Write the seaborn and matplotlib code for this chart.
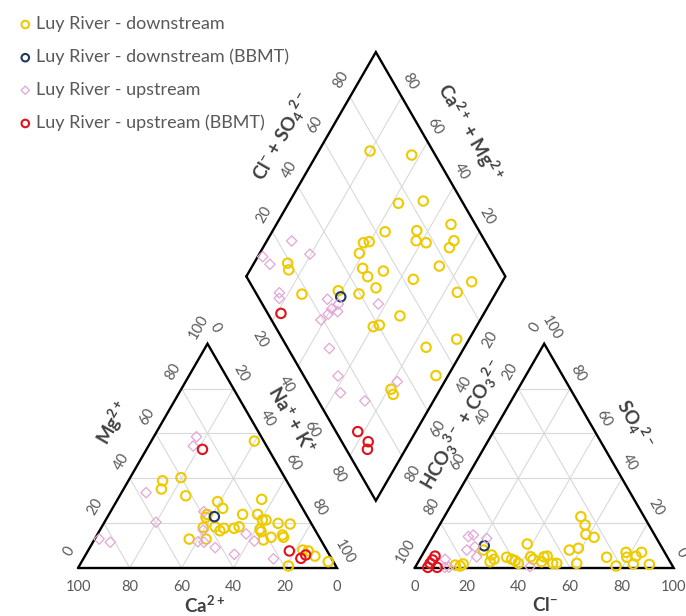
import numpy as np
import pandas as pd
import matplotlib
matplotlib.use("Agg")
import matplotlib.pyplot as plt
import seaborn as sns

# ---- values (percent of meq/L) ----
# cation triangle: Ca2+ and Mg2+ (Na+ + K+ is the remainder)
down_ca = [3.6, 40.1, 47.9, 50.2, 42.3, 31.3, 30.8, 13.8, 38.2, 39.3, 24.5, 18.7,
           18.1, 16.7, 12.8, 8.3, 42.6, 37.9, 36.9, 34.8, 30.9, 28.6, 21.1, 21.2,
           13.7, 13.8, 18.6, 22.2, 50.6, 44.1, 9.2, 7.3, 5.9, 2.0, 18.3]
down_mg = [56.6, 40.3, 38.9, 35.2, 32.2, 29.6, 26.6, 30.6, 23.9, 22.6, 23.9, 23.9,
           21.4, 21.4, 19.9, 19.6, 18.1, 18.4, 16.6, 17.7, 17.7, 18.4, 17.3, 16.2,
           14.7, 13.7, 13.7, 12.5, 12.9, 12.9, 8.0, 7.6, 5.3, 2.8, 0.9]
down_bbmt_ca = [35.9]
down_bbmt_mg = [22.9]
up_ca = [25.0, 28.3, 56.9, 59.7, 38.9, 43.2, 47.9, 45.6, 42.5, 36.6, 27.5, 25.9,
         22.5, 85.4, 81.8]
up_mg = [58.5, 54.4, 33.6, 20.4, 25.1, 16.9, 11.7, 11.5, 9.1, 6.1, 15.2, 12.0,
         4.1, 12.9, 11.5]
up_bbmt_ca = [25.5, 14.6, 11.8, 9.2]
up_bbmt_mg = [52.9, 7.6, 4.3, 5.8]

# anion triangle: Cl- and SO4 2- (HCO3- + CO3 2- is the remainder)
down_cl = [52.7, 56.2, 58.6, 62.4, 58.8, 55.7, 61.5, 38.1, 42.3, 43.8, 47.4, 48.5,
           47.6, 52.2, 53.8, 33.1, 35.5, 37.1, 39.0, 26.8, 28.7, 27.7, 22.5, 71.7,
           77.3, 78.1, 79.5, 82.8, 84.1, 83.5, 89.8, 15.0, 17.1, 17.8]
down_so4 = [22.9, 19.2, 15.0, 13.7, 8.8, 8.0, 2.1, 10.7, 5.0, 3.9, 5.0, 5.3,
            2.8, 2.1, 2.1, 4.8, 3.9, 3.3, 2.1, 5.8, 3.9, 2.8, 8.0, 4.8,
            0.9, 7.0, 4.8, 5.3, 7.0, 1.8, 1.6, 1.3, 0.9, 1.8]
down_bbmt_cl = [21.9]
down_bbmt_so4 = [9.9]
up_cl = [13.7, 15.3, 21.2, 16.1, 21.4, 18.5, 9.8, 13.0, 44.2, 11.5]
up_so4 = [14.0, 14.7, 13.2, 8.0, 5.0, 9.5, 3.9, 0.3, 0.6, 0.3]
up_bbmt_cl = [5.2, 5.1, 4.9, 4.9, 8.5]
up_bbmt_so4 = [5.3, 3.6, 2.1, 0.3, 0.3]

# diamond: Na+ + K+ and Cl- + SO4 2-
down_nak = [19.8, 36.8, 42.4, 51.5, 67.4, 43.6, 55.6, 37.7, 39.7, 57.6, 61.9, 72.2,
            72.0, 38.5, 43.1, 51.7, 72.2, 46.9, 65.1, 88.2, 13.0, 14.9, 52.6, 25.4,
            38.7, 47.4, 85.0, 68.1, 60.2, 62.2, 95.2, 85.2, 95.3, 81.0, 83.0]
down_clso4 = [75.7, 90.9, 75.0, 85.1, 90.6, 63.5, 76.0, 52.7, 55.2, 73.5, 76.9, 88.1,
              84.8, 48.8, 46.7, 54.1, 76.8, 46.8, 63.8, 85.8, 18.9, 17.8, 47.5, 17.5,
              32.3, 39.6, 77.9, 50.5, 37.8, 40.5, 67.2, 53.6, 51.1, 30.7, 30.4]
down_bbmt_nak = [41.0]
down_bbmt_clso4 = [31.9]
up_nak = [9.6, 1.9, 6.4, 19.6, 16.4, 17.6, 36.4, 57.1, 40.2, 41.7, 43.1, 40.0,
          38.5, 48.1, 57.6, 62.3, 73.5, 81.7]
up_clso4 = [25.4, 10.7, 11.8, 29.5, 9.1, 7.8, 26.2, 44.8, 25.7, 29.4, 27.4, 23.2,
            19.1, 16.0, 13.2, 10.4, 18.0, 34.8]
up_bbmt_nak = [21.6, 77.6, 83.9, 85.3]
up_bbmt_clso4 = [5.1, 8.4, 10.2, 8.2]

labels = ["Luy River - downstream", "Luy River - downstream (BBMT)",
          "Luy River - upstream", "Luy River - upstream (BBMT)"]
colors = ["#EDCB00", "#1F3A5F", "#E3A6D6", "#E0121B"]

H = np.sqrt(3) / 2
GAP = 30
L = np.array([50 + GAP / 2, H * (100 + GAP)])
B = np.array([100 + GAP / 2, H * GAP])
T = np.array([100 + GAP / 2, H * (200 + GAP)])
R = np.array([150 + GAP / 2, H * (100 + GAP)])


def cation_xy(ca, mg):
    ca, mg = np.asarray(ca, float), np.asarray(mg, float)
    return 100 - ca - 0.5 * mg, H * mg


def anion_xy(cl, so4):
    cl, so4 = np.asarray(cl, float), np.asarray(so4, float)
    return 100 + GAP + cl + 0.5 * so4, H * so4


def diamond_xy(nak, clso4):
    n, s = np.asarray(nak, float), np.asarray(clso4, float)
    return L[0] + 0.5 * (n + s), L[1] + H * (s - n)


sns.set_theme(style="white")
plt.rcParams["font.family"] = ["Lato", "DejaVu Sans"]
plt.rcParams["mathtext.default"] = "regular"

fig = plt.figure(figsize=(6.86, 6.16), dpi=100)
ax = fig.add_axes([0, 0, 1, 1])
ax.set_xlim(-30.12, 234.75)
ax.set_ylim(-18.53, 219.3)
ax.axis("off")

grid_kw = dict(color="#D9D9D9", lw=0.8, zorder=1)
frame_kw = dict(color="black", lw=1.7, zorder=3, solid_joinstyle="miter")


def seg(p, q, **kw):
    ax.plot([p[0], q[0]], [p[1], q[1]], **kw)


# triangles
for ox in [0, 100 + GAP]:
    p0, p1, p2 = np.array([ox, 0]), np.array([ox + 100, 0]), np.array([ox + 50, 100 * H])
    for f in [0.2, 0.4, 0.6, 0.8]:
        seg(p0 + f * (p2 - p0), p1 + f * (p2 - p1), **grid_kw)
        seg(p0 + f * (p1 - p0), p2 + f * (p1 - p2), **grid_kw)
        seg(p1 + f * (p0 - p1), p2 + f * (p0 - p2), **grid_kw)
    pts = np.array([p0, p1, p2, p0])
    ax.plot(pts[:, 0], pts[:, 1], **frame_kw)

# diamond
for f in [0.2, 0.4, 0.6, 0.8]:
    seg(L + f * (B - L), T + f * (R - T), **grid_kw)
    seg(L + f * (T - L), B + f * (R - B), **grid_kw)
pts = np.array([L, T, R, B, L])
ax.plot(pts[:, 0], pts[:, 1], **frame_kw)

# tick labels
tick_kw = dict(fontsize=10.5, color="#595959", ha="center", va="center",
               rotation_mode="anchor")
off_l = np.array([-3.3, 6.5])
off_r = np.array([3.0, 6.0])
off_dl = np.array([-4.6, -7.0])
off_dr = np.array([4.2, -7.0])
for v in range(0, 101, 20):
    f = v / 100
    ax.text(100 - v, -7.3, str(v), **tick_kw)
    ax.text(130 + v, -7.3, str(v), **tick_kw)
    p = np.array([50 * f, 100 * H * f]) + off_l
    ax.text(p[0], p[1], str(v), rotation=60, **tick_kw)
    p = np.array([50 + 50 * f, 100 * H * (1 - f)]) + off_r
    ax.text(p[0], p[1], str(v), rotation=-60, **tick_kw)
    p = np.array([130 + 50 * (1 - f), 100 * H * (1 - f)]) + off_l
    ax.text(p[0], p[1], str(v), rotation=60, **tick_kw)
    p = np.array([230 - 50 * f, 100 * H * f]) + off_r
    ax.text(p[0], p[1], str(v), rotation=-60, **tick_kw)
for v in [20, 40, 60, 80]:
    f = v / 100
    p = L + f * (T - L) + off_l
    ax.text(p[0], p[1], str(v), rotation=60, **tick_kw)
    p = R + f * (T - R) + off_r
    ax.text(p[0], p[1], str(v), rotation=-60, **tick_kw)
    p = L + f * (B - L) + off_dl
    ax.text(p[0], p[1], str(v), rotation=-60, **tick_kw)
    p = R + f * (B - R) + off_dr
    ax.text(p[0], p[1], str(v), rotation=60, **tick_kw)

# axis titles
title_kw = dict(fontsize=13.5, fontweight="bold", color="#404040", ha="center",
                va="center", rotation_mode="anchor")
ax.text(49.0, -14.3, r"Ca$^{2+}$", **title_kw)
ax.text(180.3, -14.3, r"Cl$^{-}$", **title_kw)
ax.text(13.5, 56.0, r"Mg$^{2+}$", rotation=60, **title_kw)
ax.text(82.2, 57.1, r"Na$^{+}$ + K$^{+}$", rotation=-60, **title_kw)
ax.text(215.0, 55.5, r"SO$_4$$^{2-}$", rotation=-60, **title_kw)
ax.text(148.3, 55.2, r"HCO$_3$$^{3-}$ + CO$_3$$^{2-}$", rotation=60, **title_kw)
ax.text(78.8, 166.8, r"Cl$^{-}$ + SO$_4$$^{2-}$", rotation=60, **title_kw)
ax.text(151.4, 168.0, r"Ca$^{2+}$ + Mg$^{2+}$", rotation=-60, **title_kw)

# points
groups = [
    (down_ca, down_mg, down_cl, down_so4, down_nak, down_clso4),
    (down_bbmt_ca, down_bbmt_mg, down_bbmt_cl, down_bbmt_so4, down_bbmt_nak, down_bbmt_clso4),
    (up_ca, up_mg, up_cl, up_so4, up_nak, up_clso4),
    (up_bbmt_ca, up_bbmt_mg, up_bbmt_cl, up_bbmt_so4, up_bbmt_nak, up_bbmt_clso4),
]
for i, (ca, mg, cl, so4, nak, clso4) in enumerate(groups):
    xs, ys = [], []
    for fx, fy in [cation_xy(ca, mg), anion_xy(cl, so4), diamond_xy(nak, clso4)]:
        xs.extend(fx)
        ys.extend(fy)
    df = pd.DataFrame({"x": xs, "y": ys})
    is_up = i == 2
    sns.scatterplot(data=df, x="x", y="y", ax=ax,
                    marker="D" if is_up else "o", s=28 if is_up else 46,
                    color=colors[i], facecolor="none", edgecolor=colors[i],
                    linewidth=0.9 if is_up else 1.5, zorder=4, label=labels[i])

ax.set_xlim(-30.12, 234.75)
ax.set_ylim(-18.53, 219.3)
leg = ax.legend(loc="upper left", bbox_to_anchor=(0.0, 1.0), frameon=False,
                fontsize=13, labelspacing=0.92, handletextpad=0.1,
                handlelength=1.0, borderaxespad=0.5, markerscale=0.8)
for t in leg.get_texts():
    t.set_color("#595959")

fig.savefig("out.png", dpi=100)
